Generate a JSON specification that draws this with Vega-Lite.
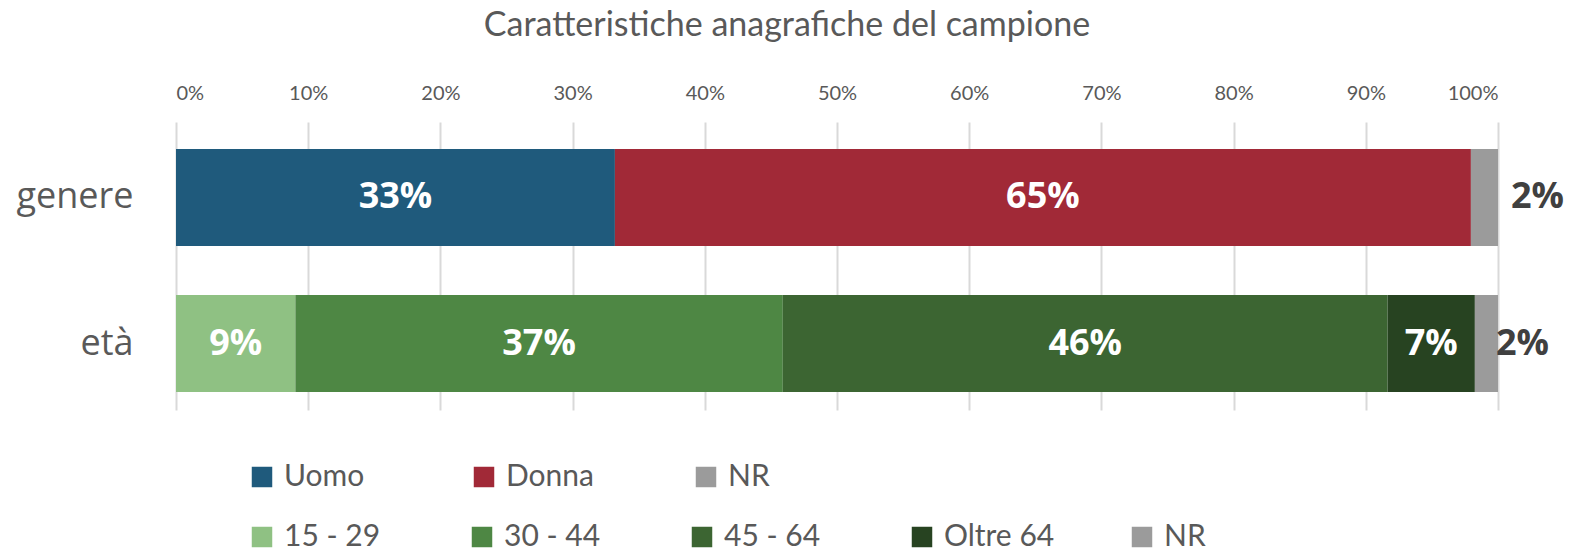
{
  "$schema": "https://vega.github.io/schema/vega-lite/v6.json",
  "autosize": {"type": "none"},
  "padding": {"left": 176, "top": 122, "right": 74, "bottom": 143},
  "width": 1322,
  "height": 288,
  "title": {
    "text": "Caratteristiche anagrafiche del campione",
    "font": "Lato",
    "fontSize": 34,
    "fontWeight": "normal",
    "color": "#595959",
    "anchor": "middle",
    "dx": -50,
    "offset": 40
  },
  "data": {
    "values": [
      {"gruppo": "genere", "categoria": "Uomo", "valore": 0.332, "ordine": 1},
      {"gruppo": "genere", "categoria": "Donna", "valore": 0.6475, "ordine": 2},
      {"gruppo": "genere", "categoria": "NR", "valore": 0.0205, "ordine": 3},
      {"gruppo": "età", "categoria": "15 - 29", "valore": 0.0903, "ordine": 1},
      {"gruppo": "età", "categoria": "30 - 44", "valore": 0.3687, "ordine": 2},
      {"gruppo": "età", "categoria": "45 - 64", "valore": 0.4575, "ordine": 3},
      {"gruppo": "età", "categoria": "Oltre 64", "valore": 0.066, "ordine": 4},
      {"gruppo": "età", "categoria": "NR", "valore": 0.0175, "ordine": 5}
    ]
  },
  "encoding": {
    "y": {
      "field": "gruppo",
      "type": "nominal",
      "sort": ["genere", "età"],
      "scale": {"paddingInner": 0.336, "paddingOuter": 0.154, "align": 0.6},
      "axis": {
        "title": null,
        "ticks": false,
        "domain": false,
        "labelFont": "Open Sans",
        "labelFontSize": 36,
        "labelColor": "#595959",
        "labelPadding": 43
      }
    }
  },
  "layer": [
    {
      "transform": [{"filter": "datum.gruppo === 'genere'"}],
      "mark": {"type": "bar"},
      "encoding": {
        "x": {
          "field": "valore",
          "type": "quantitative",
          "stack": "zero",
          "scale": {"domain": [0, 1]},
          "axis": {
            "orient": "top",
            "title": null,
            "format": ".0%",
            "values": [0, 0.1, 0.2, 0.3, 0.4, 0.5, 0.6, 0.7, 0.8, 0.9, 1],
            "ticks": false,
            "domain": false,
            "grid": true,
            "gridColor": "#D9D9D9",
            "gridWidth": 2,
            "labelFont": "Lato",
            "labelFontSize": 20,
            "labelColor": "#595959",
            "labelPadding": 19
          }
        },
        "order": {"field": "ordine", "type": "quantitative"},
        "color": {
          "field": "categoria",
          "type": "nominal",
          "scale": {"domain": ["Uomo", "Donna", "NR"], "range": ["#1F5A7C", "#A12937", "#9B9B9B"]},
          "legend": {
            "title": null,
            "orient": "none",
            "direction": "horizontal",
            "columns": 3,
            "gridAlign": "all",
            "columnPadding": 96,
            "legendX": 71,
            "legendY": 340,
            "padding": 0,
            "symbolType": "square",
            "symbolSize": 420,
            "symbolStrokeWidth": 0,
            "labelFont": "Lato",
            "labelFontSize": 30,
            "labelColor": "#595959",
            "labelOffset": 7
          }
        }
      }
    },
    {
      "transform": [{"filter": "datum.gruppo === 'età'"}],
      "mark": {"type": "bar"},
      "encoding": {
        "x": {"field": "valore", "type": "quantitative", "stack": "zero"},
        "order": {"field": "ordine", "type": "quantitative"},
        "color": {
          "field": "categoria",
          "type": "nominal",
          "scale": {"domain": ["15 - 29", "30 - 44", "45 - 64", "Oltre 64", "NR"], "range": ["#8FC183", "#4E8744", "#3C6532", "#274321", "#9B9B9B"]},
          "legend": {
            "title": null,
            "orient": "none",
            "direction": "horizontal",
            "columns": 5,
            "gridAlign": "all",
            "columnPadding": 72,
            "legendX": 71,
            "legendY": 400,
            "padding": 0,
            "symbolType": "square",
            "symbolSize": 420,
            "symbolStrokeWidth": 0,
            "labelFont": "Lato",
            "labelFontSize": 30,
            "labelColor": "#595959",
            "labelOffset": 7
          }
        }
      }
    },
    {
      "transform": [{"filter": "datum.categoria !== 'NR'"}],
      "mark": {"type": "text", "font": "Open Sans", "fontWeight": "bold", "fontSize": 36, "color": "white", "baseline": "middle"},
      "encoding": {
        "x": {"field": "valore", "type": "quantitative", "stack": "zero", "bandPosition": 0.5},
        "order": {"field": "ordine", "type": "quantitative"},
        "text": {"field": "valore", "type": "quantitative", "format": ".0%"}
      }
    },
    {
      "transform": [{"filter": "datum.categoria === 'NR' && datum.gruppo === 'genere'"}],
      "mark": {"type": "text", "font": "Open Sans", "fontWeight": "bold", "fontSize": 36, "color": "#404040", "baseline": "middle", "align": "left", "dx": 13},
      "encoding": {
        "x": {"datum": 1, "type": "quantitative"},
        "text": {"field": "valore", "type": "quantitative", "format": ".0%"}
      }
    },
    {
      "transform": [{"filter": "datum.categoria === 'NR' && datum.gruppo === 'età'"}],
      "mark": {"type": "text", "font": "Open Sans", "fontWeight": "bold", "fontSize": 36, "color": "#404040", "baseline": "middle", "align": "left", "dx": -2},
      "encoding": {
        "x": {"datum": 1, "type": "quantitative"},
        "text": {"field": "valore", "type": "quantitative", "format": ".0%"}
      }
    }
  ],
  "resolve": {"scale": {"color": "independent"}},
  "config": {"view": {"stroke": null}}
}
